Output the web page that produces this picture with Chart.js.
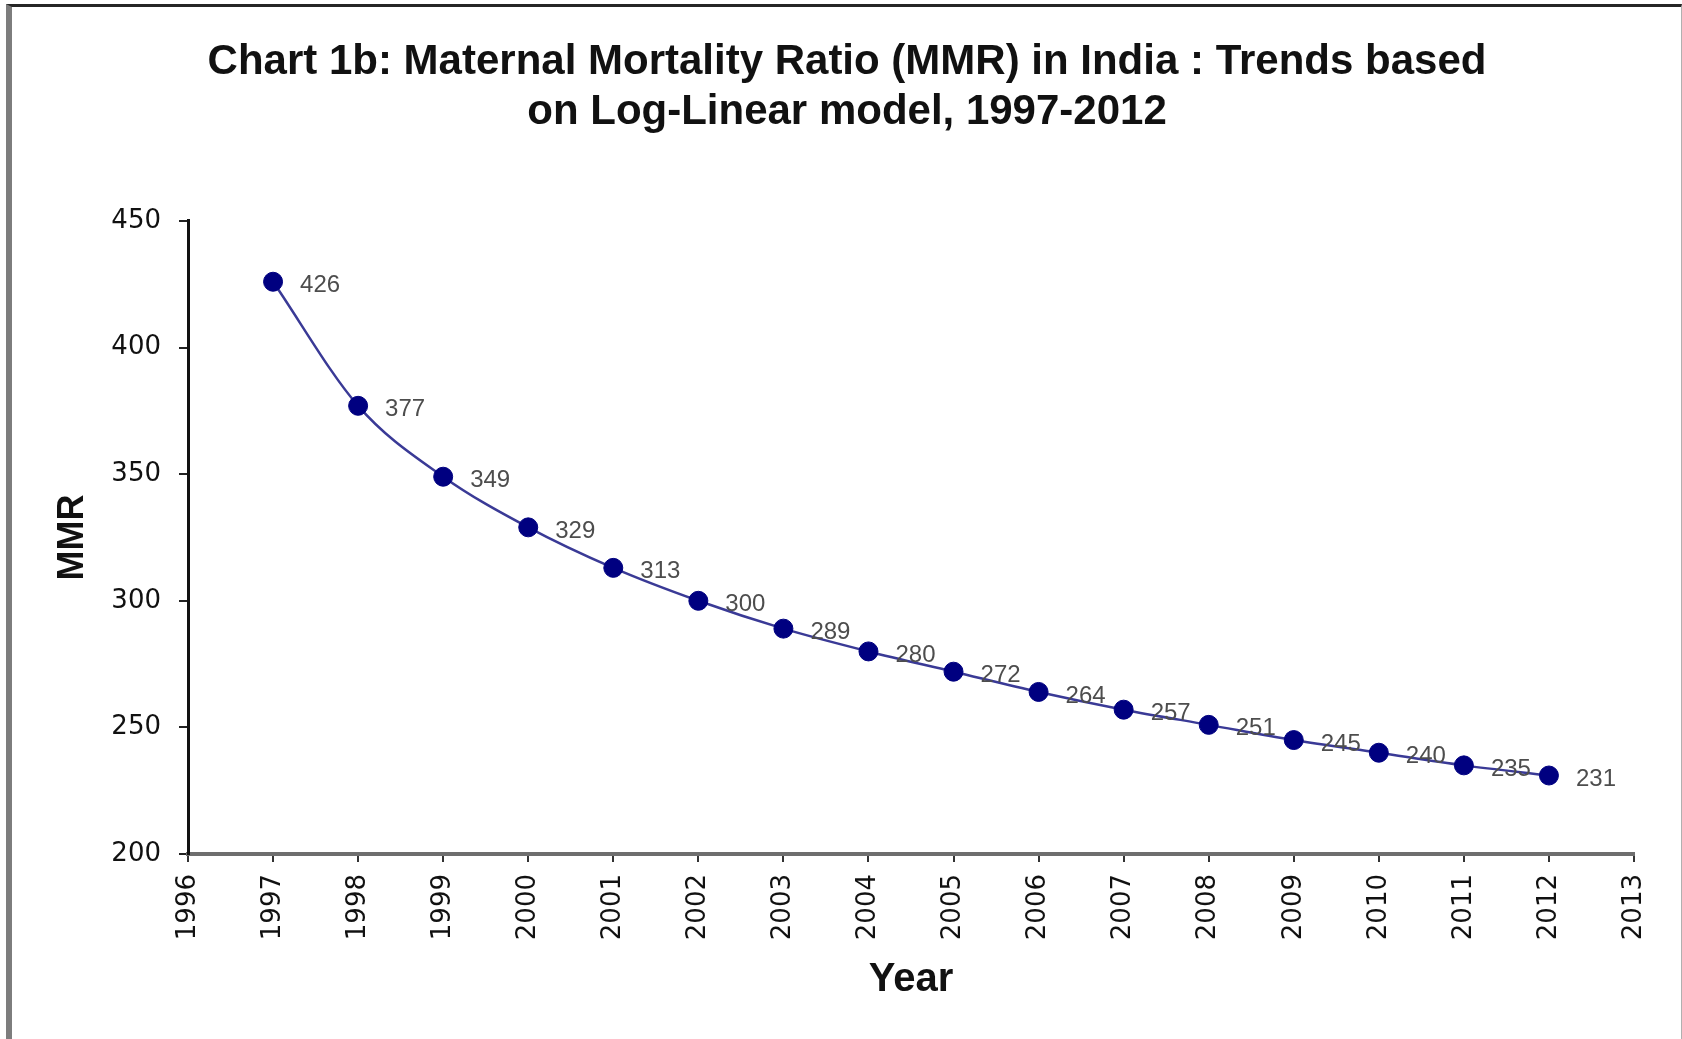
<!DOCTYPE html>
<html>
<head>
<meta charset="utf-8">
<title>Chart 1b: Maternal Mortality Ratio (MMR) in India</title>
<script src="https://cdn.jsdelivr.net/npm/chart.js@4.4.1/dist/chart.umd.min.js"></script>
<style>
    html, body { margin: 0; padding: 0; background: #fff; overflow: hidden; }
    #frame {
        position: absolute; left: 6px; top: 4px; right: 0; bottom: 0;
        border-top: 3px solid #262626;
        border-left: 6px solid #7d7d7d;
        border-right: 1px solid #b0b0b0;
    }
    #wrap { position: absolute; left: 0; top: 0; width: 1682px; height: 1039px; }
</style>
</head>
<body>
<div id="frame"></div>
<div id="wrap"><canvas id="mmrChart"></canvas></div>
<script>
// data
const years = [1997, 1998, 1999, 2000, 2001, 2002, 2003, 2004, 2005, 2006, 2007, 2008, 2009, 2010, 2011, 2012];
const mmrValues = [426, 377, 349, 329, 313, 300, 289, 280, 272, 264, 257, 251, 245, 240, 235, 231];
const titleLines = ['Chart 1b: Maternal Mortality Ratio (MMR) in India : Trends based', 'on Log-Linear model, 1997-2012'];
const xAxisTitle = 'Year';
const yAxisTitle = 'MMR';

// value labels to the right of each point (Excel style)
const pointLabels = {
    id: 'pointLabels',
    afterDatasetsDraw(chart) {
        const ctx = chart.ctx;
        const meta = chart.getDatasetMeta(0);
        ctx.save();
        ctx.font = '24px "Liberation Sans", Arial, sans-serif';
        ctx.fillStyle = '#4d4d4d';
        ctx.textAlign = 'left';
        ctx.textBaseline = 'middle';
        meta.data.forEach((pt, i) => {
            ctx.fillText(String(mmrValues[i]), pt.x + 27, pt.y + 4);
        });
        ctx.restore();
    }
};

new Chart(document.getElementById('mmrChart'), {
    type: 'line',
    data: {
        datasets: [{
            label: 'MMR',
            data: years.map((y, i) => ({ x: y, y: mmrValues[i] })),
            borderColor: '#3a3a96',
            borderWidth: 2.5,
            cubicInterpolationMode: 'monotone',
            pointRadius: 9.5,
            pointBackgroundColor: '#000080',
            pointBorderColor: '#000080',
            pointBorderWidth: 1,
            yAxisID: 'y',
        }]
    },
    options: {
        responsive: true,
        maintainAspectRatio: false,
        animation: false,
        layout: { padding: { left: 12, right: 0, top: 0, bottom: 0 } },
        plugins: {
            legend: { display: false },
            tooltip: { enabled: false },
            title: {
                display: true,
                text: titleLines,
                color: '#111',
                font: { family: '"Liberation Sans", Arial, sans-serif', size: 42, weight: 'bold', lineHeight: 1.19 },
                padding: { top: 37, bottom: 84 },
            },
        },
        scales: {
            x: {
                type: 'linear',
                min: 1996,
                max: 2013,
                afterFit: (s) => { s.height = 185; },
                ticks: {
                    stepSize: 1,
                    autoSkip: false,
                    minRotation: 90,
                    maxRotation: 90,
                    padding: 12,
                    color: '#111',
                    font: { family: '"DejaVu Sans", sans-serif', size: 26 },
                    callback: (v) => String(v),
                },
                grid: { drawOnChartArea: false, drawTicks: true, tickLength: 8, color: '#333', lineWidth: 2 },
                border: { display: true, color: '#6e6e6e', width: 4 },
                title: {
                    display: true,
                    text: xAxisTitle,
                    color: '#111',
                    font: { family: '"Liberation Sans", Arial, sans-serif', size: 40, weight: 'bold', lineHeight: 1.2 },
                    padding: { top: 0, bottom: 35 },
                },
            },
            y: {
                type: 'linear',
                position: 'left',
                min: 200,
                max: 450,
                afterFit: (s) => { s.width = 176; },
                ticks: {
                    stepSize: 50,
                    padding: 18,
                    color: '#111',
                    font: { family: '"DejaVu Sans", sans-serif', size: 26 },
                },
                grid: { drawOnChartArea: false, drawTicks: true, tickLength: 9, color: '#222', lineWidth: 2 },
                border: { display: true, color: '#111', width: 3 },
                title: {
                    display: true,
                    text: yAxisTitle,
                    color: '#111',
                    font: { family: '"Liberation Sans", Arial, sans-serif', size: 36, weight: 'bold', lineHeight: 1.2 },
                    padding: { top: 39, bottom: 0 },
                },
            },
            // empty right-hand box, keeps the white margin right of the plot
            yRight: {
                type: 'linear',
                position: 'right',
                display: true,
                afterFit: (s) => { s.width = 48; },
                ticks: { display: false },
                grid: { display: false },
                border: { display: false },
            },
        },
    },
    plugins: [pointLabels],
});
</script>
</body>
</html>
